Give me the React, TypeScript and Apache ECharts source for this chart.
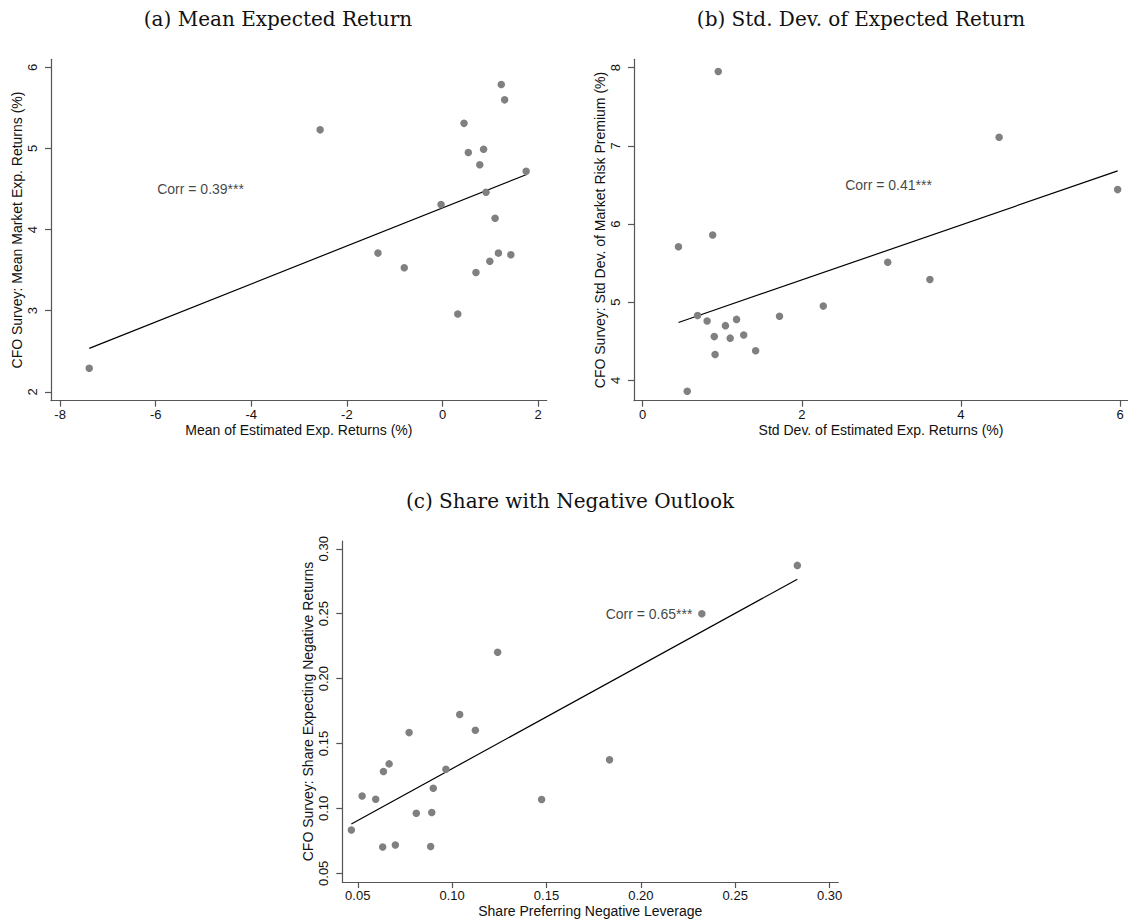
import React, { useEffect, useRef } from "react";
import * as echarts from "echarts";

// Panel (a): mean of estimated expected returns vs CFO survey mean
const aX = [-7.39, -2.56, -1.35, -0.8, -0.03, 0.32, 0.45, 0.54, 0.7, 0.78, 0.86, 0.91, 0.99, 1.1, 1.17, 1.23, 1.3, 1.43, 1.75];
const aY = [2.29, 5.23, 3.71, 3.53, 4.31, 2.96, 5.31, 4.95, 3.47, 4.8, 4.99, 4.46, 3.61, 4.14, 3.71, 5.79, 5.6, 3.69, 4.72];
const aFit = [[-7.39, 2.535], [1.76, 4.68]];
const aTicksX = [-8, -6, -4, -2, 0, 2];
const aTicksY = [2, 3, 4, 5, 6];

// Panel (b): dispersion of estimated expected returns vs CFO survey dispersion
const bX = [0.45, 0.56, 0.69, 0.81, 0.88, 0.9, 0.91, 0.95, 1.04, 1.1, 1.18, 1.27, 1.42, 1.72, 2.27, 3.08, 3.61, 4.48, 5.97];
const bY = [5.71, 3.86, 4.83, 4.76, 5.86, 4.56, 4.33, 7.95, 4.7, 4.54, 4.78, 4.58, 4.38, 4.82, 4.95, 5.51, 5.29, 7.11, 6.44];
const bFit = [[0.45, 4.74], [5.97, 6.68]];
const bTicksX = [0, 2, 4, 6];
const bTicksY = [4, 5, 6, 7, 8];

// Panel (c): share preferring negative leverage vs share expecting negative returns
const cX = [0.0466, 0.0523, 0.0595, 0.0632, 0.0636, 0.0666, 0.0699, 0.0772, 0.081, 0.0886, 0.0892, 0.09, 0.0967, 0.104, 0.1123, 0.1241, 0.1474, 0.1834, 0.2323, 0.2829];
const cY = [0.0834, 0.1096, 0.107, 0.0703, 0.1284, 0.1343, 0.0718, 0.1584, 0.0963, 0.0706, 0.0968, 0.1155, 0.1302, 0.1723, 0.1602, 0.2203, 0.1068, 0.1374, 0.2499, 0.2872];
const cFit = [[0.0466, 0.088], [0.2829, 0.2766]];
const cTicks = [0.05, 0.1, 0.15, 0.2, 0.25, 0.3];

const titles = ["(a) Mean Expected Return", "(b) Std. Dev. of Expected Return", "(c) Share with Negative Outlook"];
const corrLabels = ["Corr = 0.39***", "Corr = 0.41***", "Corr = 0.65***"];
const corrAnchors = [[-5.97, 4.5], [2.544, 6.5], [0.1813, 0.25]];
const xTitles = ["Mean of Estimated Exp. Returns (%)", "Std Dev. of Estimated Exp. Returns (%)", "Share Preferring Negative Leverage"];
const yTitles = [
  "CFO Survey: Mean Market Exp. Returns (%)",
  "CFO Survey: Std Dev. of Market Risk Premium (%)",
  "CFO Survey: Share Expecting Negative Returns",
];

const SANS = "'Liberation Sans', Arial, sans-serif";
const SERIF = "'DejaVu Serif', serif";
const AXIS_COLOR = "#555";
const TEXT_COLOR = "#111";
const DOT_COLOR = "#808080";

const zip = (xs: number[], ys: number[]) => xs.map((x, i) => [x, ys[i]]);

function xAxisDef(idx: number, min: number, max: number, ticks: number[], fmt: (v: number) => string) {
  return {
    type: "value",
    gridIndex: idx,
    min,
    max,
    name: xTitles[idx],
    nameLocation: "middle",
    nameGap: 22,
    nameTextStyle: { fontFamily: SANS, fontSize: 14, color: TEXT_COLOR },
    axisLine: { show: true, onZero: false, lineStyle: { color: AXIS_COLOR, width: 1.2 } },
    axisTick: { show: true, length: 6, customValues: ticks, lineStyle: { color: AXIS_COLOR, width: 1.2 } },
    axisLabel: {
      customValues: ticks,
      margin: 7,
      fontFamily: SANS,
      fontSize: 13,
      color: TEXT_COLOR,
      formatter: (v: number) => fmt(v),
    },
    splitLine: { show: false },
  };
}

function yAxisDef(idx: number, min: number, max: number, ticks: number[], fmt: (v: number) => string) {
  return {
    type: "value",
    gridIndex: idx,
    min,
    max,
    name: yTitles[idx],
    nameLocation: "middle",
    nameRotate: 90,
    nameGap: 27,
    nameTextStyle: { fontFamily: SANS, fontSize: 14, color: TEXT_COLOR },
    axisLine: { show: true, onZero: false, lineStyle: { color: AXIS_COLOR, width: 1.2 } },
    axisTick: { show: true, length: 6, customValues: ticks, lineStyle: { color: AXIS_COLOR, width: 1.2 } },
    axisLabel: {
      customValues: ticks,
      rotate: 90,
      margin: 12,
      fontFamily: SANS,
      fontSize: 13,
      color: TEXT_COLOR,
      formatter: (v: number) => fmt(v),
    },
    splitLine: { show: false },
  };
}

function panelSeries(idx: number, pts: number[][], fit: number[][]) {
  return [
    {
      type: "scatter",
      xAxisIndex: idx,
      yAxisIndex: idx,
      data: pts,
      symbolSize: 7.5,
      itemStyle: { color: DOT_COLOR, opacity: 1 },
      z: 3,
    },
    {
      type: "line",
      xAxisIndex: idx,
      yAxisIndex: idx,
      data: fit,
      showSymbol: false,
      symbol: "none",
      lineStyle: { color: "#000", width: 1.2 },
      z: 2,
    },
    {
      type: "scatter",
      xAxisIndex: idx,
      yAxisIndex: idx,
      data: [corrAnchors[idx]],
      symbolSize: 0.1,
      itemStyle: { color: "rgba(0,0,0,0)" },
      label: {
        show: true,
        position: "right",
        distance: 0,
        formatter: corrLabels[idx],
        fontFamily: SANS,
        fontSize: 14,
        color: TEXT_COLOR,
      },
      z: 4,
    },
  ];
}

export default function App() {
  const ref = useRef<HTMLDivElement>(null);

  useEffect(() => {
    if (!ref.current) return;
    const chart = echarts.init(ref.current, null, { renderer: "svg" });
    const intFmt = (v: number) => String(Math.round(v));
    const twoFmt = (v: number) => v.toFixed(2);

    chart.setOption({
      animation: false,
      backgroundColor: "#fff",
      grid: [
        { left: 51, top: 59.3, width: 495.7, height: 341.4 },
        { left: 634, top: 59.3, width: 495.5, height: 341.4 },
        { left: 342.3, top: 541, width: 496, height: 341 },
      ],
      xAxis: [
        xAxisDef(0, -8.19, 2.18, aTicksX, intFmt),
        xAxisDef(1, -0.109, 6.1, bTicksX, intFmt),
        xAxisDef(2, 0.0418, 0.3046, cTicks, twoFmt),
      ],
      yAxis: [
        yAxisDef(0, 1.89, 6.1, aTicksY, intFmt),
        yAxisDef(1, 3.74, 8.107, bTicksY, intFmt),
        yAxisDef(2, 0.0433, 0.306, cTicks, twoFmt),
      ],
      graphic: [
        { type: "text", x: 278, y: 19, style: { text: titles[0], font: `20px ${SERIF}`, fill: "#111", align: "center", verticalAlign: "middle" } },
        { type: "text", x: 861, y: 19, style: { text: titles[1], font: `20px ${SERIF}`, fill: "#111", align: "center", verticalAlign: "middle" } },
        { type: "text", x: 570, y: 501, style: { text: titles[2], font: `20px ${SERIF}`, fill: "#111", align: "center", verticalAlign: "middle" } },
      ],
      series: [
        ...panelSeries(0, zip(aX, aY), aFit),
        ...panelSeries(1, zip(bX, bY), bFit),
        ...panelSeries(2, zip(cX, cY), cFit),
      ],
    });

    return () => chart.dispose();
  }, []);

  return (
    <div
      ref={ref}
      style={{ position: "absolute", left: 0, top: 0, width: 1128, height: 923 }}
    />
  );
}
